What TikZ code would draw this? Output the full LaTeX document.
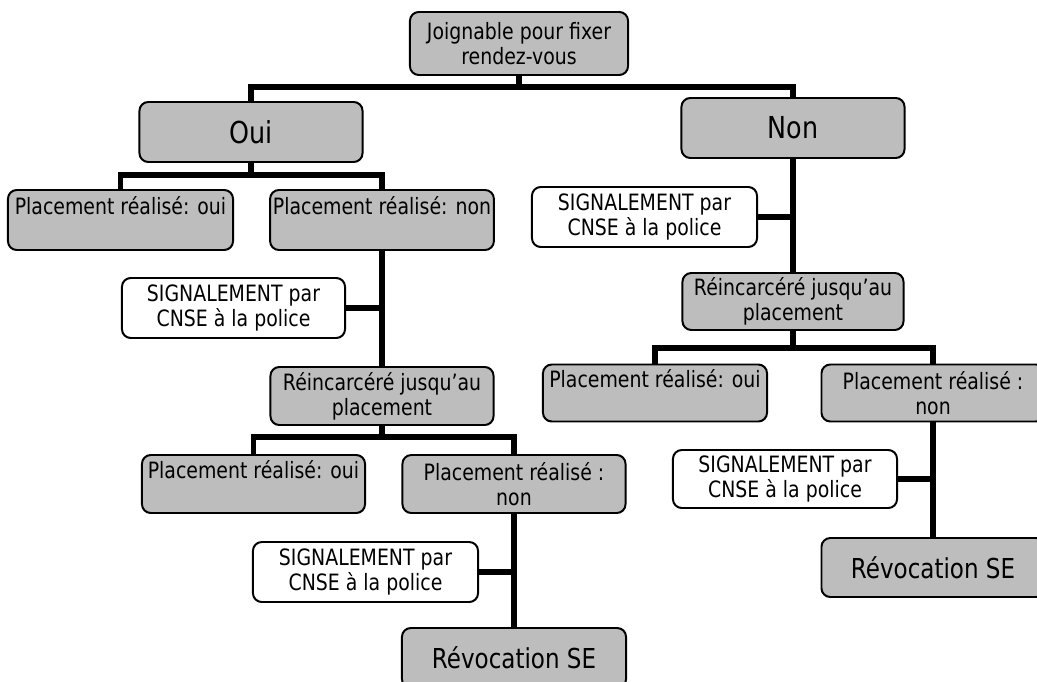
\documentclass[tikz,border=0pt]{standalone}
\usepackage{fontspec}
\setmainfont{DejaVu Sans}[FakeStretch=0.84]
\definecolor{boxgray}{gray}{0.74}
\begin{document}
\begin{tikzpicture}[x=0.025cm, y=-0.025cm,
    gbox/.style = {draw, line width=1.4pt, rounded corners=0.22cm, fill=boxgray, align=center,
                   minimum width=5.575cm, minimum height=1.5cm, inner sep=2pt,
                   font=\fontsize{16}{18}\selectfont},
    wbox/.style = {gbox, fill=white},
    answer/.style = {font=\fontsize{21.5}{24}\selectfont},
    revoc/.style = {font=\fontsize{19.5}{22}\selectfont},
    topline/.style = {text depth=0.7cm},
    link/.style = {line width=3.6pt}]
    \useasboundingbox (0,0) rectangle (1037,682);
    % top of the tree
    \node[gbox, minimum width=5.45cm, minimum height=1.575cm] (joign) at (519,43.5) {Joignable pour fixer\\rendez-vous};
    \node[gbox, answer] (oui) at (251,132) {Oui};
    \node[gbox, answer] (non) at (793,128) {Non};
    % branch Oui
    \node[gbox, topline, minimum width=5.625cm] (l1) at (120.5,220) {Placement réalisé: oui};
    \node[gbox, topline] (l2) at (382,220) {Placement réalisé: non};
    \node[wbox] (sigL) at (233.5,308) {SIGNALEMENT par\\CNSE à la police};
    \node[gbox, minimum height=1.45cm] (reincL) at (382,396) {Réincarcéré jusqu’au\\placement};
    \node[gbox, topline, minimum height=1.45cm] (ll1) at (253.5,484) {Placement réalisé: oui};
    \node[gbox, minimum height=1.45cm] (ll2) at (514,484) {Placement réalisé :\\non};
    \node[wbox, minimum width=5.625cm] (sigLL) at (365.5,572) {SIGNALEMENT par\\CNSE à la police};
    \node[gbox, revoc, minimum width=5.6cm] (revL) at (514,658) {Révocation SE};
    % branch Non
    \node[wbox, minimum width=5.625cm] (sigR) at (644.5,217) {SIGNALEMENT par\\CNSE à la police};
    \node[gbox, minimum width=5.525cm, minimum height=1.425cm] (reincR) at (793,301.5) {Réincarcéré jusqu’au\\placement};
    \node[gbox, topline, minimum width=5.6cm, minimum height=1.425cm] (r1) at (655,393) {Placement réalisé: oui};
    \node[gbox, minimum height=1.425cm] (r2) at (933,393) {Placement réalisé :\\non};
    \node[wbox, minimum width=5.6cm, minimum height=1.45cm] (sigR2) at (785,479) {SIGNALEMENT par\\CNSE à la police};
    \node[gbox, revoc, minimum height=1.475cm] (revR) at (933,567.5) {Révocation SE};
    % connectors
    \coordinate (b0) at (519,87);
    \coordinate (b1) at (251,175);
    \coordinate (b2) at (382,437);
    \coordinate (b3) at (793,348);
    \draw[link] (joign.south) -- (b0);
    \draw[link] (oui.north) |- (b0) -| (non.north);
    \draw[link] (oui.south) -- (b1);
    \draw[link] (l1.north) |- (b1) -| (l2.north);
    \draw[link] (l2.south) -- (reincL.north);
    \draw[link] (sigL.east) -- (sigL.east -| l2.south);
    \draw[link] (reincL.south) -- (b2);
    \draw[link] (ll1.north) |- (b2) -| (ll2.north);
    \draw[link] (ll2.south) -- (revL.north);
    \draw[link] (sigLL.east) -- (sigLL.east -| ll2.south);
    \draw[link] (non.south) -- (reincR.north);
    \draw[link] (sigR.east) -- (sigR.east -| non.south);
    \draw[link] (reincR.south) -- (b3);
    \draw[link] (r1.north) |- (b3) -| (r2.north);
    \draw[link] (r2.south) -- (revR.north);
    \draw[link] (sigR2.east) -- (sigR2.east -| r2.south);
\end{tikzpicture}
\end{document}
